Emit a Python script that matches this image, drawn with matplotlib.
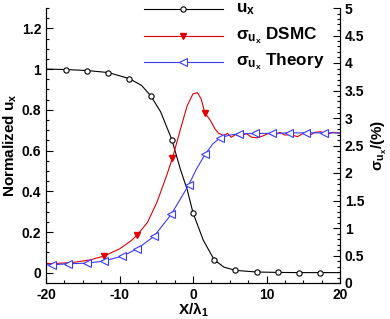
import numpy as np
import matplotlib.pyplot as plt
from matplotlib.lines import Line2D
from matplotlib.ticker import MultipleLocator, FuncFormatter

# normalized u_x (left axis)
x_u = [-20, -17.3, -14.4, -11.5, -8.65, -7.0, -5.77, -4.4, -2.88, -1.7, -0.8,
       0, 1.4, 2.88, 4.2, 5.77, 8.65, 11.5, 14.4, 17.3, 20]
u_x = [1.0, 0.998, 0.993, 0.983, 0.953, 0.92, 0.87, 0.79, 0.654, 0.506, 0.41,
       0.295, 0.16, 0.064, 0.028, 0.012, 0.004, 0.002, 0.001, 0.001, 0.001]
u_marks = [1, 2, 3, 4, 6, 8, 11, 13, 15, 16, 17, 18, 19]

# sigma u_x DSMC (right axis, %)
x_dsmc = [-20, -18, -16, -14, -12.1, -10, -8.5, -7.6, -6.2, -4.9, -3.6, -2.8,
          -1.7, -0.8, 0, 0.6, 1.1, 1.6, 2.4, 3.0, 3.5, 4.2, 4.7, 5.2, 5.8, 6.5,
          7.2, 8.0, 8.8, 9.6, 10.3, 11.0, 11.8, 12.5, 13.3, 14.2, 15.0, 15.8,
          16.6, 17.4, 18.2, 19.0, 20]
s_dsmc = [0.35, 0.36, 0.38, 0.42, 0.49, 0.62, 0.76, 0.87, 1.10, 1.47, 1.95, 2.27,
          2.80, 3.22, 3.44, 3.46, 3.35, 3.10, 2.95, 2.80, 2.72, 2.68, 2.72, 2.65,
          2.70, 2.66, 2.72, 2.65, 2.64, 2.68, 2.72, 2.68, 2.74, 2.69, 2.70, 2.66,
          2.72, 2.68, 2.74, 2.75, 2.70, 2.74, 2.72]
dsmc_marks = [4, 7, 11, 17]

# sigma u_x theory (right axis, %)
x_th = [-20, -19.2, -17, -14.4, -12.1, -9.6, -7.6, -5.3, -2.95, -0.6, 0.5, 1.7,
        2.7, 3.7, 5.0, 6.2, 8.5, 10.8, 13.1, 15.4, 17.8, 20]
s_th = [0.33, 0.33, 0.35, 0.36, 0.40, 0.49, 0.62, 0.85, 1.25, 1.78, 2.08, 2.35,
        2.53, 2.64, 2.69, 2.71, 2.72, 2.72, 2.73, 2.73, 2.73, 2.73]
th_marks = [1, 2, 3, 4, 5, 6, 7, 8, 9, 11, 13, 15, 16, 17, 18, 19, 20]

labels = [r'u$_x$', r'$\sigma_{u_x}$ DSMC', r'$\sigma_{u_x}$ Theory']

plt.rcParams['font.family'] = ['Liberation Sans', 'DejaVu Sans']
plt.rcParams['font.weight'] = 'bold'
plt.rcParams['mathtext.fontset'] = 'custom'
plt.rcParams['mathtext.rm'] = 'Liberation Sans:bold'
plt.rcParams['mathtext.bf'] = 'Liberation Sans:bold'
plt.rcParams['mathtext.it'] = 'Liberation Sans:bold'
plt.rcParams['mathtext.default'] = 'rm'

W, H = 390, 319
fig = plt.figure(figsize=(W / 100, H / 100), dpi=100)
ax = fig.add_axes([46 / W, 36 / H, 294 / W, 275 / H])
ax2 = ax.twinx()

styles = [
    dict(color='k', lw=0.8, marker='o', ms=3.8, mfc='white', mec='k', mew=0.8),
    dict(color='#e00000', lw=0.8, marker='v', ms=5, mfc='#e00000', mec='#e00000'),
    dict(color='#3a3aff', lw=0.8, marker='<', ms=5.5, mfc='white', mec='#3a3aff', mew=0.8),
]

ax.plot(x_u, u_x, markevery=u_marks, **styles[0])
ax2.plot(x_dsmc, s_dsmc, markevery=dsmc_marks, **styles[1])
ax2.plot(x_th, s_th, markevery=th_marks, **styles[2])

ax.set_xlim(-20, 20)
ax.set_ylim(-0.05, 1.3)
ax2.set_ylim(0, 5)

ax.xaxis.set_major_locator(MultipleLocator(10))
ax.xaxis.set_minor_locator(MultipleLocator(2.5))
ax.yaxis.set_major_locator(MultipleLocator(0.2))
ax.yaxis.set_minor_locator(MultipleLocator(0.05))
ax2.yaxis.set_major_locator(MultipleLocator(0.5))
ax2.yaxis.set_minor_locator(MultipleLocator(0.1))

fmt = FuncFormatter(lambda v, p: f"{v:g}")
ax.yaxis.set_major_formatter(fmt)
ax2.yaxis.set_major_formatter(fmt)
ax.xaxis.set_major_formatter(fmt)

for a in (ax, ax2):
    a.spines['top'].set_visible(False)
    a.tick_params(which='both', direction='in', labelsize=10, width=0.8)
    a.tick_params(which='major', length=5)
    a.tick_params(which='minor', length=2.5)
ax.tick_params(axis='y', right=False)

ax.set_xlabel(r'X/$\lambda_1$', fontsize=11, fontweight='bold', labelpad=-1)
ax.set_ylabel(r'Normalized u$_x$', fontsize=11, fontweight='bold', labelpad=2)
ax2.set_ylabel(r'$\sigma_{u_x}$/(%)', fontsize=11, fontweight='bold', labelpad=4)

# legend drawn by hand, top centre, no frame
for i, (st, lab) in enumerate(zip(styles, labels)):
    yf = 1 - (9 + 26.5 * i) / H
    fig.add_artist(Line2D([144 / W, 223 / W], [yf, yf], transform=fig.transFigure,
                          color=st['color'], lw=st['lw']))
    fig.add_artist(Line2D([183 / W], [yf], transform=fig.transFigure,
                          ls='none', **{k: v for k, v in st.items() if k not in ('color', 'lw')}))
    fig.text(236 / W, yf, lab, fontsize=12.3, fontweight='bold', va='center', ha='left')

fig.savefig('out.png', dpi=100)
